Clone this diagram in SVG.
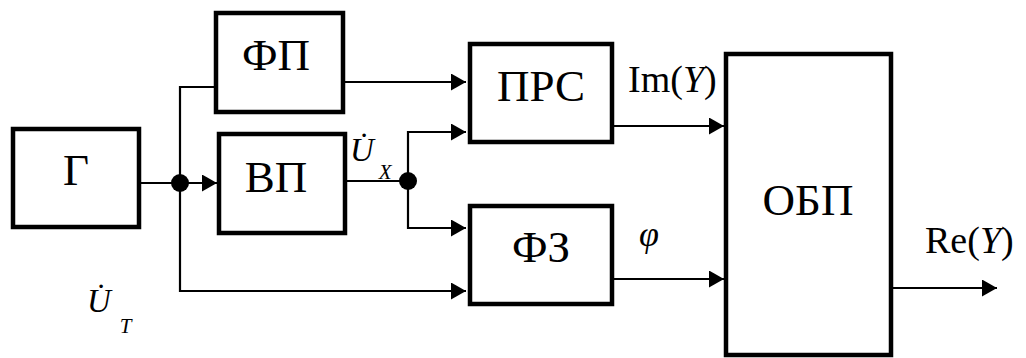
<svg xmlns="http://www.w3.org/2000/svg" width="1026" height="358" viewBox="0 0 1026 358">
<style>
.box{fill:#fff;stroke:#000;stroke-width:4.5}
.ln{fill:none;stroke:#000;stroke-width:2.2}
</style>
<defs>
<marker id="arr" markerUnits="userSpaceOnUse" markerWidth="16" markerHeight="18" refX="15" refY="8.5" orient="auto">
<path d="M0,0 L15,8.5 L0,17 Z" fill="#000"/>
</marker>
</defs>
<rect width="1026" height="358" fill="#fff"/>
<g id="connectors">
<path class="ln" d="M141,183 H180"/>
<path class="ln" d="M180,183 H217" marker-end="url(#arr)"/>
<path class="ln" d="M216,87 H180 V291 H466" marker-end="url(#arr)"/>
<path class="ln" d="M345,82 H466" marker-end="url(#arr)"/>
<path class="ln" d="M347,181 H408"/>
<path class="ln" d="M408,181 V132 H466" marker-end="url(#arr)"/>
<path class="ln" d="M408,181 V228 H466" marker-end="url(#arr)"/>
<path class="ln" d="M614,126 H724" marker-end="url(#arr)"/>
<path class="ln" d="M614,279 H724" marker-end="url(#arr)"/>
<path class="ln" d="M893,288 H997" marker-end="url(#arr)"/>
<circle cx="180" cy="183" r="9" fill="#000"/>
<circle cx="408" cy="181" r="9" fill="#000"/>
</g>
<g font-family="Liberation Serif, Times New Roman, serif" font-size="45" text-anchor="middle" fill="#000">
<g id="node-G"><rect class="box" x="13" y="129" width="126" height="98"/><text x="76" y="185">Г</text></g>
<g id="node-FP"><rect class="box" x="216" y="13" width="127" height="99"/><text x="276" y="70">ФП</text></g>
<g id="node-VP"><rect class="box" x="219" y="134" width="126" height="99"/><text x="276" y="192">ВП</text></g>
<g id="node-PRS"><rect class="box" x="470" y="44" width="142" height="98"/><text x="541" y="101">ПРС</text></g>
<g id="node-FZ"><rect class="box" x="470" y="206" width="142" height="98"/><text x="541" y="262">ФЗ</text></g>
<g id="node-OBP"><rect class="box" x="726" y="54" width="165" height="301"/><text x="808" y="215">ОБП</text></g>
</g>
<g id="labels" font-family="Liberation Serif, Times New Roman, serif" font-size="38" fill="#000">
<text x="628" y="92">Im(<tspan font-style="italic">Y</tspan>)</text>
<text x="925" y="253">Re(<tspan font-style="italic">Y</tspan>)</text>
<text x="639" y="246" font-size="36" font-style="italic">φ</text>
<text x="350" y="161" font-size="33" font-style="italic">U̇<tspan font-size="21" dx="5" dy="18">X</tspan></text>
<text x="87" y="312" font-size="33" font-style="italic">U̇<tspan font-size="21" dx="9" dy="21">T</tspan></text>
</g>
</svg>
